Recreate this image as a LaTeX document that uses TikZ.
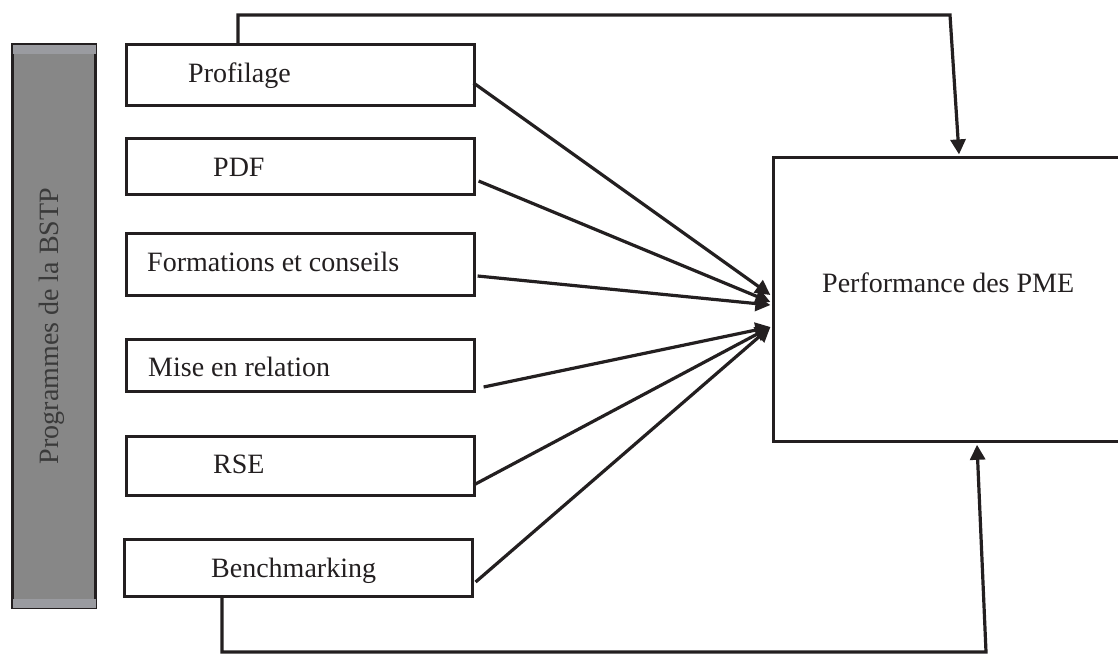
\documentclass[tikz,border=0pt]{standalone}
\usepackage{fontspec}
\setmainfont{Liberation Serif}
\usetikzlibrary{arrows.meta,calc}
\definecolor{ink}{HTML}{231F20}
\definecolor{barfill}{HTML}{878787}
\definecolor{barband}{HTML}{9A9BA0}
\definecolor{bartext}{HTML}{3A3A3A}
\begin{document}
\begin{tikzpicture}[x=1pt,y=-1pt,
  progbox/.style={draw=ink, line width=3.2pt, inner sep=0pt, minimum width=348pt},
  lbl/.style={font=\fontsize{28}{32}\selectfont, text=ink, anchor=base west, inner sep=0pt},
  conn/.style={draw=ink, line width=3.2pt, line join=miter, -{Triangle[length=15pt,width=15pt]}},
  link/.style={draw=ink, line width=3.2pt, line join=miter}]
\useasboundingbox (0,0) rectangle (1118,656);
\fill[white] (0,0) rectangle (1118,656);

% side bar
\node[draw=ink, fill=barfill, line width=3pt, inner sep=0pt,
      minimum width=83pt, minimum height=563pt] (bstp) at (54,326) {};
\fill[barband] ($(bstp.north west)+(1.5,1.5)$) rectangle ($(bstp.north east)+(-1.5,10.5)$);
\fill[barband] ($(bstp.south west)+(1.5,-10.5)$) rectangle ($(bstp.south east)+(-1.5,-1.5)$);
\node[rotate=90, font=\fontsize{28}{32}\selectfont, text=bartext] (bstptxt) at (52,326) {Programmes de la BSTP};

% programme boxes
\node[progbox, minimum height=61pt] (prof) at (300.5,75) {};
\node[progbox, minimum height=56pt] (pdf) at (300.5,166.5) {};
\node[progbox, minimum height=62pt] (form) at (300.5,264.5) {};
\node[progbox, minimum height=52pt] (mise) at (300.5,365.5) {};
\node[progbox, minimum height=59pt] (rse) at (300.5,466) {};
\node[progbox, minimum height=57pt] (bench) at (298.5,568) {};

\node[lbl] (proft) at (188,82) {Profilage};
\node[lbl] (pdft) at (213,176) {PDF};
\node[lbl] (formt) at (147,271) {Formations et conseils};
\node[lbl] (miset) at (148,376) {Mise en relation};
\node[lbl] (rset) at (213,473) {RSE};
\node[lbl] (bencht) at (211,577) {Benchmarking};

% performance box
\node[draw=ink, line width=3.2pt, inner sep=0pt, anchor=north west,
      minimum width=360pt, minimum height=284pt] (perf) at (772,156) {};
\node[lbl] (perft) at (822,292) {Performance des PME};

% fan of arrows
\draw[conn] ($(prof.east)+(-2.5,8)$) -- ($(perf.north west)+(-1.6,139)$);
\draw[conn] ($(pdf.east)+(2.5,14.5)$) -- ($(perf.north west)+(-1.6,146)$);
\draw[conn] ($(form.east)+(1.5,11.5)$) -- ($(perf.north west)+(-1.6,149)$);
\draw[conn] ($(mise.east)+(7.5,21.5)$) -- ($(perf.north west)+(-1.6,171)$);
\draw[conn] ($(rse.east)+(-2.5,19)$) -- ($(perf.north west)+(-1.6,171)$);
\draw[conn] ($(bench.east)+(1.5,14)$) -- ($(perf.north west)+(-1.6,171)$);

% top loop
\coordinate (tl) at (238,15);
\coordinate (tr) at (950,15);
\draw[conn] ($(prof.north)+(-62.5,0)$) -- (tl) -- (tr) -- ($(perf.north west)+(187,-1.6)$);

% bottom loop
\coordinate (bl) at (222,652);
\coordinate (br) at (986,652);
\draw[conn] ($(bench.south)+(-76.5,0)$) -- (bl) -- (br) -- ($(perf.south west)+(205,1.6)$);
\end{tikzpicture}
\end{document}
